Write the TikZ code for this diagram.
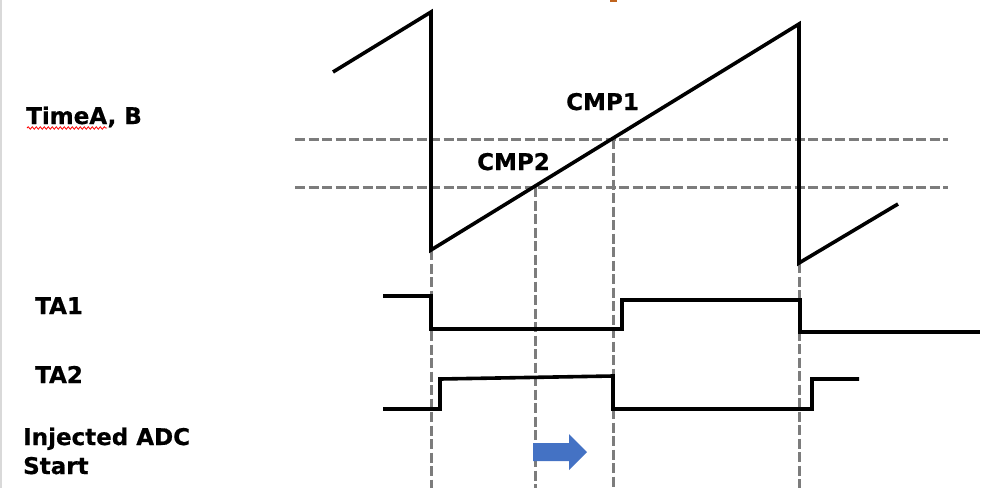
\documentclass[tikz,border=0pt]{standalone}
\usepackage{fontspec}
\setmainfont{DejaVu Sans}[BoldFeatures={FakeBold=0.6}]
\usetikzlibrary{decorations.pathmorphing}
\definecolor{guidegray}{HTML}{7C7C7C}
\definecolor{arrowblue}{HTML}{4472C4}
\definecolor{markorange}{HTML}{C0641E}

\begin{document}
\begin{tikzpicture}[x=1pt, y=-1pt,
    signal/.style={line width=3.6pt, black},
    guide/.style={line width=3pt, guidegray, dash pattern=on 10pt off 3.5pt},
    lbl/.style={font=\bfseries\fontsize{23}{26}\selectfont, anchor=base west, inner sep=0pt}]

    \useasboundingbox (0,0) rectangle (999,488);

    % Page edge and small mark
    \draw[gray!30, line width=1.5pt] (1,0) -- (1,488);
    \fill[markorange] (610,0) rectangle (617,1.5);

    % Compare levels
    \draw[guide] (295,139) -- (948,139);
    \draw[guide] (295,187) -- (948,187);

    % Event guides
    \draw[guide] (431,250) -- (431,488);
    \draw[guide] (535,187) -- (535,488);
    \draw[guide] (613,139) -- (613,488);
    \draw[guide] (799,263) -- (799,488);

    % Timer counter
    \draw[signal] (333,72) -- (431,12) -- (431,250) -- (799,24) -- (799,263) -- (898,204);

    % Output TA1
    \draw[signal] (383,296) -- (431,296) -- (431,329) -- (622,329) -- (622,300)
        -- (800,300) -- (800,332) -- (980,332);

    % Output TA2
    \draw[signal] (383,409) -- (440,409) -- (440,379) -- (613,376) -- (613,409)
        -- (812,409) -- (812,379) -- (859,379);

    % ADC trigger arrow
    \fill[arrowblue] (533,443) -- (569,443) -- (569,434) -- (587,452)
        -- (569,470) -- (569,461) -- (533,461) -- cycle;

    % Labels
    \node[lbl] (timer) at (26,124) {TimeA, B};
    \draw[red, line width=0.8pt, decorate,
        decoration={snake, amplitude=1.2pt, segment length=4pt}] (27,128) -- (107,128);
    \node[lbl] (cmpone) at (566,110) {CMP1};
    \node[lbl] (cmptwo) at (477,170) {CMP2};
    \node[lbl] (taone) at (35,314) {TA1};
    \node[lbl] (tatwo) at (35,383) {TA2};
    \node[lbl] (adc) at (23,445) {Injected ADC};
    \node[lbl] (adcstart) at (23,474) {Start};

\end{tikzpicture}
\end{document}
